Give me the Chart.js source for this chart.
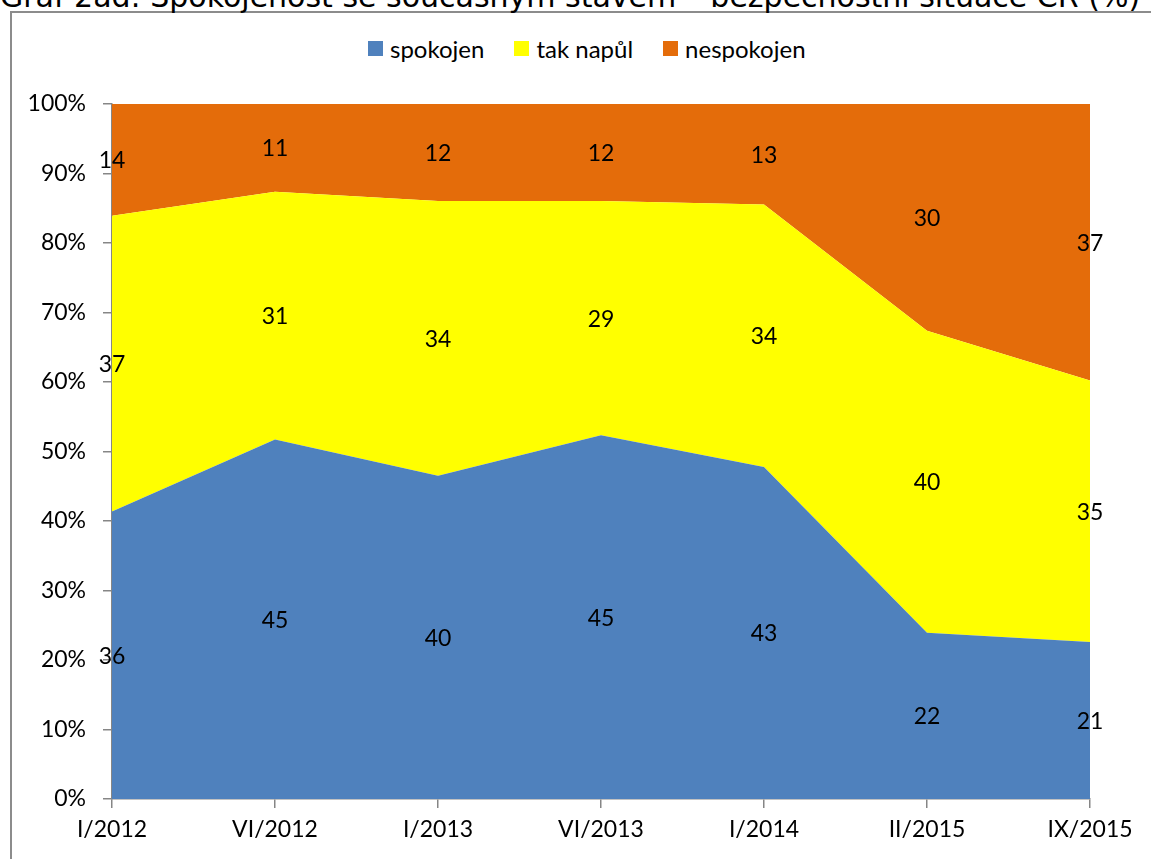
<!DOCTYPE html>
<html>
<head>
<meta charset="utf-8">
<script src="https://cdn.jsdelivr.net/npm/chart.js@4"></script>
<style>
    html, body { margin: 0; padding: 0; background: #fff; overflow: hidden; }
    #wrap { position: relative; width: 1151px; height: 859px; overflow: hidden; }
    #frame { position: absolute; left: 10px; top: 11px; width: 1300px; height: 1000px; border: 2px solid #8c8c8c; box-sizing: border-box; }
    #title { position: absolute; left: 0; top: -20px; white-space: nowrap; font-family: "DejaVu Sans", sans-serif; font-size: 30px; line-height: 34px; color: #000; }
    #legend { position: absolute; left: 368px; top: 34px; display: flex; font-family: Lato, sans-serif; font-size: 24px; color: #000; }
    #legend span.item { display: flex; align-items: center; margin-right: 30px; }
    #legend i { display: inline-block; width: 15px; height: 15px; margin-right: 7px; }
    #chart { position: absolute; left: 0; top: 0; }
</style>
</head>
<body>
<div id="wrap">
    <div id="frame"></div>
    <div id="title">Graf 2ad: Spokojenost se současným stavem – bezpečnostní situace ČR (%)</div>
    <div id="legend"></div>
    <canvas id="chart" width="1151" height="859"></canvas>
</div>
<script>
// Survey waves
const labels = ['I/2012', 'VI/2012', 'I/2013', 'VI/2013', 'I/2014', 'II/2015', 'IX/2015'];

// Raw answers (%)
const spokojen = [36, 45, 40, 45, 43, 22, 21];
const takNapul = [37, 31, 34, 29, 34, 40, 35];
const nespokojen = [14, 11, 12, 12, 13, 30, 37];

const seriesNames = ['spokojen', 'tak napůl', 'nespokojen'];
const seriesColors = ['#4F81BD', '#FFFF00', '#E46C0A'];

const FONT = 'Lato, sans-serif';
const FONT_SIZE = 23;

// 100% stacked: share of each answer in the wave total
const raw = [spokojen, takNapul, nespokojen];
const totals = labels.map((_, i) => raw.reduce((s, arr) => s + arr[i], 0));
const shares = raw.map(arr => arr.map((v, i) => v / totals[i] * 100));

// Legend
document.getElementById('legend').innerHTML = seriesNames.map((n, i) =>
    `<span class="item"><i style="background:${seriesColors[i]}"></i>${n}</span>`
).join('');

// Values written in the middle of each band
const bandLabels = {
    id: 'bandLabels',
    afterDatasetsDraw(chart) {
        const ctx = chart.ctx;
        const x = chart.scales.x;
        const y = chart.scales.y;
        ctx.save();
        ctx.font = FONT_SIZE + 'px ' + FONT;
        ctx.fillStyle = '#000';
        ctx.textAlign = 'center';
        ctx.textBaseline = 'middle';
        labels.forEach((_, j) => {
            let base = 0;
            raw.forEach((arr, i) => {
                const mid = base + shares[i][j] / 2;
                base += shares[i][j];
                ctx.fillText(String(arr[j]), x.getPixelForValue(j), y.getPixelForValue(mid) + 1);
            });
        });
        ctx.restore();
    }
};

new Chart(document.getElementById('chart'), {
    type: 'line',
    data: {
        labels: labels,
        datasets: shares.map((data, i) => ({
            label: seriesNames[i],
            data: data,
            backgroundColor: seriesColors[i],
            borderColor: seriesColors[i],
            borderWidth: 0,
            pointRadius: 0,
            tension: 0,
            fill: i === 0 ? 'origin' : '-1'
        }))
    },
    options: {
        responsive: false,
        animation: false,
        layout: { padding: { top: 104, right: 61, left: 0, bottom: 0 } },
        plugins: {
            legend: { display: false },
            tooltip: { enabled: false }
        },
        scales: {
            x: {
                offset: false,
                afterFit: s => { s.height = 60; },
                grid: { drawOnChartArea: false, drawTicks: true, tickLength: 9, color: '#868686', lineWidth: 1.5 },
                border: { color: '#868686', width: 1.5 },
                ticks: { color: '#000', font: { family: FONT, size: FONT_SIZE }, padding: 8, maxRotation: 0, autoSkip: false }
            },
            y: {
                stacked: true,
                min: 0,
                max: 100,
                afterFit: s => { s.width = 112; },
                grid: { drawOnChartArea: false, drawTicks: true, tickLength: 9, color: '#868686', lineWidth: 1.5 },
                border: { color: '#868686', width: 1.5 },
                ticks: { stepSize: 10, color: '#000', font: { family: FONT, size: FONT_SIZE }, padding: 17, callback: v => v + '%' }
            }
        }
    },
    plugins: [bandLabels]
});
</script>
</body>
</html>
